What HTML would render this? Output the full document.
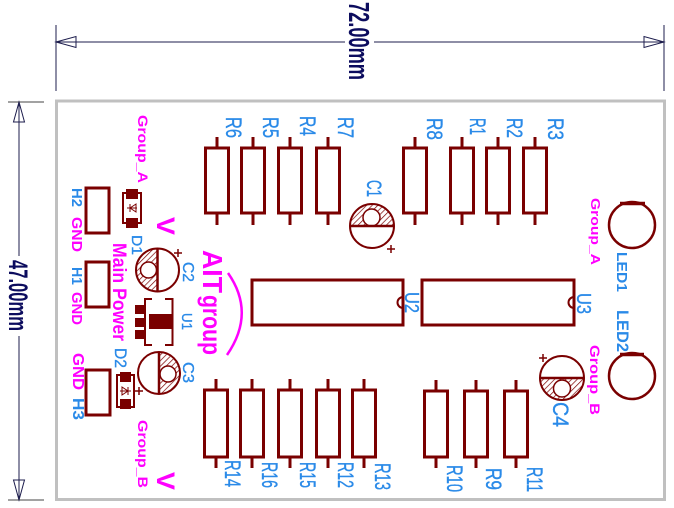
<!DOCTYPE html>
<html><head><meta charset="utf-8"><style>
html,body{margin:0;padding:0;background:#fff;}
svg{display:block;}
text{font-family:"Liberation Sans",Arial,sans-serif;}
.b{fill:#2a8ae8;stroke:#2a8ae8;stroke-width:0.35;}
.bb{fill:#2a8ae8;font-weight:bold;}
.m{fill:#ff00ff;font-weight:bold;}
.n{fill:#0c0c5e;font-weight:bold;}
.r{fill:none;stroke:#7a0000;stroke-width:3;}
.l{stroke:#7a0000;stroke-width:3;}
.t{stroke:#7a0000;stroke-width:2;fill:none;}
</style></head><body>
<svg width="674" height="508" viewBox="0 0 674 508" xmlns="http://www.w3.org/2000/svg">
<defs>
<pattern id="h" patternUnits="userSpaceOnUse" width="4" height="4" patternTransform="rotate(45)">
<line x1="0" y1="0" x2="0" y2="4" stroke="#7a0000" stroke-width="1.4"/>
</pattern>
</defs>

<!-- board -->
<rect x="56.5" y="101" width="608" height="398.5" fill="none" stroke="#c0c0c0" stroke-width="3"/>

<!-- horizontal dimension -->
<g stroke="#1c1c4c" stroke-width="1" fill="none">
<line x1="56" y1="25" x2="56" y2="91"/>
<line x1="664" y1="25" x2="664" y2="91"/>
<line x1="56" y1="42" x2="345" y2="42"/>
<line x1="374" y1="42" x2="664" y2="42"/>
<polygon points="56,42 76,36.5 76,47.5"/>
<polygon points="664,42 644,36.5 644,47.5"/>
<!-- vertical dimension -->
<line x1="19" y1="102" x2="19" y2="256"/>
<line x1="19" y1="336" x2="19" y2="500"/>
<line x1="8" y1="102" x2="44" y2="102" stroke="#444"/>
<line x1="8" y1="500" x2="44" y2="500" stroke="#444"/>
<polygon points="19,102 13.5,122 24.5,122"/>
<polygon points="19,500 13.5,480 24.5,480"/>
</g>
<text class="n" transform="translate(349,2) rotate(90)" font-size="29" textLength="78" lengthAdjust="spacingAndGlyphs">72.00mm</text>
<text class="n" transform="translate(9,260) rotate(90)" font-size="27" textLength="71" lengthAdjust="spacingAndGlyphs">47.00mm</text>

<!-- top resistors -->
<g>
<rect class="r" x="205.5" y="148" width="23" height="65"/><line class="l" x1="217" y1="137" x2="217" y2="148"/><line class="l" x1="217" y1="213" x2="217" y2="225"/>
<rect class="r" x="241.5" y="148" width="23" height="65"/><line class="l" x1="253" y1="137" x2="253" y2="148"/><line class="l" x1="253" y1="213" x2="253" y2="225"/>
<rect class="r" x="278.5" y="148" width="23" height="65"/><line class="l" x1="290" y1="137" x2="290" y2="148"/><line class="l" x1="290" y1="213" x2="290" y2="225"/>
<rect class="r" x="316.5" y="148" width="23" height="65"/><line class="l" x1="328" y1="137" x2="328" y2="148"/><line class="l" x1="328" y1="213" x2="328" y2="225"/>
<rect class="r" x="403.5" y="148" width="23" height="65"/><line class="l" x1="415" y1="137" x2="415" y2="148"/><line class="l" x1="415" y1="213" x2="415" y2="225"/>
<rect class="r" x="450.5" y="148" width="23" height="65"/><line class="l" x1="462" y1="137" x2="462" y2="148"/><line class="l" x1="462" y1="213" x2="462" y2="225"/>
<rect class="r" x="486.5" y="148" width="23" height="65"/><line class="l" x1="498" y1="137" x2="498" y2="148"/><line class="l" x1="498" y1="213" x2="498" y2="225"/>
<rect class="r" x="523.5" y="148" width="23" height="65"/><line class="l" x1="535" y1="137" x2="535" y2="148"/><line class="l" x1="535" y1="213" x2="535" y2="225"/>
</g>

<!-- bottom resistors -->
<g>
<rect class="r" x="204.5" y="390" width="23" height="67"/><line class="l" x1="216" y1="379" x2="216" y2="390"/><line class="l" x1="216" y1="457" x2="216" y2="468"/>
<rect class="r" x="240.5" y="390" width="23" height="67"/><line class="l" x1="252" y1="379" x2="252" y2="390"/><line class="l" x1="252" y1="457" x2="252" y2="468"/>
<rect class="r" x="278.5" y="390" width="23" height="67"/><line class="l" x1="290" y1="379" x2="290" y2="390"/><line class="l" x1="290" y1="457" x2="290" y2="468"/>
<rect class="r" x="316.5" y="390" width="23" height="67"/><line class="l" x1="328" y1="379" x2="328" y2="390"/><line class="l" x1="328" y1="457" x2="328" y2="468"/>
<rect class="r" x="352.5" y="390" width="23" height="67"/><line class="l" x1="364" y1="379" x2="364" y2="390"/><line class="l" x1="364" y1="457" x2="364" y2="468"/>
<rect class="r" x="424.5" y="391" width="23" height="66"/><line class="l" x1="436" y1="380" x2="436" y2="391"/><line class="l" x1="436" y1="457" x2="436" y2="468"/>
<rect class="r" x="464.5" y="391" width="23" height="66"/><line class="l" x1="476" y1="380" x2="476" y2="391"/><line class="l" x1="476" y1="457" x2="476" y2="468"/>
<rect class="r" x="504.5" y="391" width="23" height="66"/><line class="l" x1="516" y1="380" x2="516" y2="391"/><line class="l" x1="516" y1="457" x2="516" y2="468"/>
</g>

<!-- ICs -->
<rect class="r" x="252" y="280" width="151" height="45"/>
<path d="M403,297 A5.5,5.5 0 0 0 403,308" class="t"/>
<rect class="r" x="422" y="280" width="152" height="45"/>
<path d="M574,297 A5.5,5.5 0 0 0 574,308" class="t"/>

<!-- headers -->
<rect class="r" x="86" y="188" width="23" height="45"/>
<rect class="r" x="86" y="262" width="23" height="45"/>
<rect class="r" x="86" y="370" width="24" height="45"/>

<!-- diodes -->
<rect class="t" x="123" y="193" width="18" height="30"/>
<rect x="126" y="189" width="12" height="10" fill="#7a0000"/>
<rect x="126" y="218" width="12" height="10" fill="#7a0000"/>
<line x1="127" y1="208" x2="137" y2="208" stroke="#7a0000" stroke-width="1"/>
<polygon points="130,208 136,204 136,212" fill="none" stroke="#7a0000" stroke-width="1"/>
<line x1="130" y1="204" x2="130" y2="212" stroke="#7a0000" stroke-width="1"/>

<rect class="t" x="117" y="375" width="17" height="32"/>
<rect x="120" y="372" width="11" height="10" fill="#7a0000"/>
<rect x="120" y="399" width="11" height="10" fill="#7a0000"/>
<line x1="120" y1="391" x2="131" y2="391" stroke="#7a0000" stroke-width="1"/>
<polygon points="128,391 122,387 122,395" fill="none" stroke="#7a0000" stroke-width="1"/>
<line x1="128" y1="387" x2="128" y2="395" stroke="#7a0000" stroke-width="1"/>

<!-- U1 regulator -->
<path d="M152,299 H145 V345 H152" class="t"/>
<path d="M165,299 H172.5 V345 H165" class="t"/>
<rect x="135" y="305" width="10" height="9" fill="#7a0000"/>
<rect x="135" y="318" width="10" height="9" fill="#7a0000"/>
<rect x="135" y="330" width="10" height="9" fill="#7a0000"/>
<rect x="149" y="314" width="23" height="15" fill="#7a0000"/>

<!-- C1 -->
<path d="M350,226 A22,22 0 0 1 394,226 Z" fill="url(#h)"/>
<circle cx="371.5" cy="217.5" r="8.5" fill="#fff" stroke="#7a0000" stroke-width="1.5"/>
<circle cx="372" cy="226" r="22" class="t"/>
<line x1="350" y1="226" x2="394" y2="226" stroke="#7a0000" stroke-width="2.5"/>
<path d="M387,249 H395 M391,245 V253" stroke="#7a0000" stroke-width="1.5"/>

<!-- C4 -->
<path d="M540,378 A22,22 0 0 0 584,378 Z" fill="url(#h)"/>
<circle cx="562" cy="388.5" r="8.5" fill="#fff" stroke="#7a0000" stroke-width="1.5"/>
<circle cx="562" cy="378" r="22" class="t"/>
<line x1="540" y1="378" x2="584" y2="378" stroke="#7a0000" stroke-width="2.5"/>
<path d="M539,358 H547 M543,354 V362" stroke="#7a0000" stroke-width="1.5"/>

<!-- C2 -->
<path d="M157.5,248.5 A21.5,21.5 0 0 0 157.5,291.5 Z" fill="url(#h)"/>
<circle cx="148.5" cy="270" r="8" fill="#fff" stroke="#7a0000" stroke-width="1.5"/>
<circle cx="157.5" cy="270" r="21.5" class="t"/>
<line x1="157.5" y1="248.5" x2="157.5" y2="291.5" stroke="#7a0000" stroke-width="2.5"/>
<path d="M174,253 H182 M178,249 V257" stroke="#7a0000" stroke-width="1.5"/>

<!-- C3 -->
<path d="M159,352 A21,21 0 0 1 159,394 Z" fill="url(#h)"/>
<circle cx="168" cy="374" r="8" fill="#fff" stroke="#7a0000" stroke-width="1.5"/>
<circle cx="159" cy="373" r="21" class="t"/>
<line x1="159" y1="352" x2="159" y2="394" stroke="#7a0000" stroke-width="2.5"/>
<path d="M135,391 H143 M139,387 V395" stroke="#7a0000" stroke-width="1.5"/>

<!-- LEDs -->
<circle cx="632" cy="225" r="23" fill="none" stroke="#7a0000" stroke-width="2.5"/>
<line x1="620" y1="203.5" x2="645" y2="203.5" stroke="#7a0000" stroke-width="3.5"/>
<circle cx="632" cy="376" r="23" fill="none" stroke="#7a0000" stroke-width="2.5"/>
<line x1="620" y1="354.5" x2="644" y2="354.5" stroke="#7a0000" stroke-width="3.5"/>

<!-- logo arc -->
<path d="M228,273 Q256,313 227,355" fill="none" stroke="#ff00ff" stroke-width="2.5"/>

<!-- blue labels -->
<g font-size="22">
<text class="b" transform="translate(226,117) rotate(90)" textLength="21" lengthAdjust="spacingAndGlyphs">R6</text>
<text class="b" transform="translate(263,117) rotate(90)" textLength="21" lengthAdjust="spacingAndGlyphs">R5</text>
<text class="b" transform="translate(300,116) rotate(90)" textLength="20" lengthAdjust="spacingAndGlyphs">R4</text>
<text class="b" transform="translate(338,117) rotate(90)" textLength="21" lengthAdjust="spacingAndGlyphs">R7</text>
<text class="b" transform="translate(427,118) rotate(90)" textLength="22" lengthAdjust="spacingAndGlyphs">R8</text>
<text class="b" transform="translate(470,118) rotate(90)" textLength="17" lengthAdjust="spacingAndGlyphs">R1</text>
<text class="b" transform="translate(507,118) rotate(90)" textLength="20" lengthAdjust="spacingAndGlyphs">R2</text>
<text class="b" transform="translate(548,118) rotate(90)" textLength="22" lengthAdjust="spacingAndGlyphs">R3</text>
<text class="b" transform="translate(225,460) rotate(90)" textLength="27" lengthAdjust="spacingAndGlyphs">R14</text>
<text class="b" transform="translate(262,462) rotate(90)" textLength="26" lengthAdjust="spacingAndGlyphs">R16</text>
<text class="b" transform="translate(300,462) rotate(90)" textLength="26" lengthAdjust="spacingAndGlyphs">R15</text>
<text class="b" transform="translate(338,462) rotate(90)" textLength="26" lengthAdjust="spacingAndGlyphs">R12</text>
<text class="b" transform="translate(375,463) rotate(90)" textLength="27" lengthAdjust="spacingAndGlyphs">R13</text>
<text class="b" transform="translate(447,465) rotate(90)" textLength="27" lengthAdjust="spacingAndGlyphs">R10</text>
<text class="b" transform="translate(486,468) rotate(90)" textLength="22" lengthAdjust="spacingAndGlyphs">R9</text>
<text class="b" transform="translate(527,467) rotate(90)" textLength="25" lengthAdjust="spacingAndGlyphs">R11</text>
</g>
<text class="b" transform="translate(367,180) rotate(90)" font-size="21" textLength="17" lengthAdjust="spacingAndGlyphs">C1</text>
<text class="b" transform="translate(183,262) rotate(90)" font-size="16" textLength="20" lengthAdjust="spacingAndGlyphs">C2</text>
<text class="b" transform="translate(183,362) rotate(90)" font-size="16" textLength="21" lengthAdjust="spacingAndGlyphs">C3</text>
<text class="b" transform="translate(553,402) rotate(90)" font-size="22" textLength="25" lengthAdjust="spacingAndGlyphs">C4</text>
<text class="b" transform="translate(182,313) rotate(90)" font-size="15" textLength="17" lengthAdjust="spacingAndGlyphs">U1</text>
<text class="b" transform="translate(405,292) rotate(90)" font-size="20" textLength="21" lengthAdjust="spacingAndGlyphs">U2</text>
<text class="b" transform="translate(577,293) rotate(90)" font-size="20" textLength="21" lengthAdjust="spacingAndGlyphs">U3</text>
<text class="b" transform="translate(132,235) rotate(90)" font-size="15" textLength="20" lengthAdjust="spacingAndGlyphs">D1</text>
<text class="b" transform="translate(115,348) rotate(90)" font-size="17" textLength="20" lengthAdjust="spacingAndGlyphs">D2</text>
<text class="bb" transform="translate(72,188) rotate(90)" font-size="15" textLength="19" lengthAdjust="spacingAndGlyphs">H2</text>
<text class="bb" transform="translate(72,267) rotate(90)" font-size="15" textLength="18" lengthAdjust="spacingAndGlyphs">H1</text>
<text class="bb" transform="translate(73,398) rotate(90)" font-size="16" textLength="22" lengthAdjust="spacingAndGlyphs">H3</text>
<text class="bb" transform="translate(617,252) rotate(90)" font-size="15" textLength="40" lengthAdjust="spacingAndGlyphs">LED1</text>
<text class="bb" transform="translate(617,310) rotate(90)" font-size="17" textLength="42" lengthAdjust="spacingAndGlyphs">LED2</text>

<!-- magenta labels -->
<text class="m" transform="translate(138,115) rotate(90)" font-size="14" textLength="68" lengthAdjust="spacingAndGlyphs">Group_A</text>
<text class="m" transform="translate(591,198) rotate(90)" font-size="13" textLength="67" lengthAdjust="spacingAndGlyphs">Group_A</text>
<text class="m" transform="translate(590,345) rotate(90)" font-size="14" textLength="70" lengthAdjust="spacingAndGlyphs">Group_B</text>
<text class="m" transform="translate(138,420) rotate(90)" font-size="14" textLength="68" lengthAdjust="spacingAndGlyphs">Group_B</text>
<text class="m" transform="translate(157,217) rotate(90)" font-size="25" textLength="18" lengthAdjust="spacingAndGlyphs">V</text>
<text class="m" transform="translate(157,472) rotate(90)" font-size="25" textLength="18" lengthAdjust="spacingAndGlyphs">V</text>
<text class="m" transform="translate(72,217) rotate(90)" font-size="15" textLength="35" lengthAdjust="spacingAndGlyphs">GND</text>
<text class="m" transform="translate(72,292) rotate(90)" font-size="15" textLength="33" lengthAdjust="spacingAndGlyphs">GND</text>
<text class="m" transform="translate(73,353) rotate(90)" font-size="16" textLength="37" lengthAdjust="spacingAndGlyphs">GND</text>
<text class="m" transform="translate(113,243) rotate(90)" font-size="19" textLength="98" lengthAdjust="spacingAndGlyphs">Main Power</text>
<text class="m" transform="translate(203,250) rotate(90)" font-size="28" textLength="43" lengthAdjust="spacingAndGlyphs">AIT</text>
<text class="m" transform="translate(203,295) rotate(90)" font-size="26" textLength="60" lengthAdjust="spacingAndGlyphs">group</text>
</svg>
</body></html>
